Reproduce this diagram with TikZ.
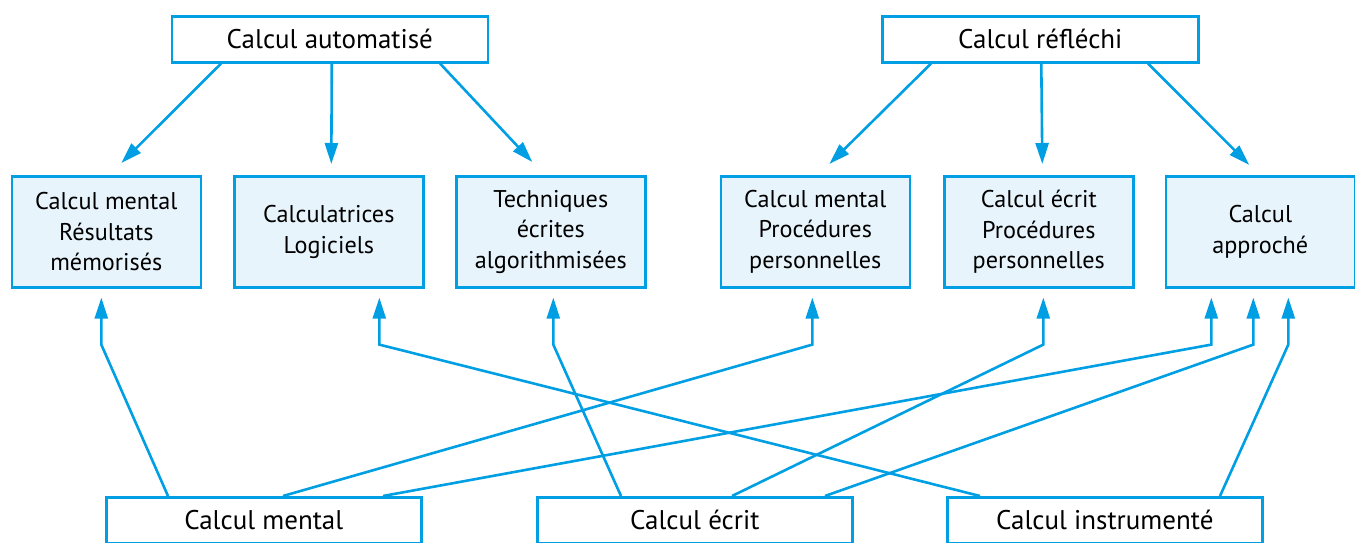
\documentclass[tikz,border=0pt]{standalone}
\usepackage{fontspec}
\setmainfont{PT Sans}
\usetikzlibrary{arrows.meta}
\definecolor{lineblue}{RGB}{0,159,227}
\definecolor{boxfill}{RGB}{232,244,252}
\begin{document}
\begin{tikzpicture}[x=1pt,y=-1pt,
  every node/.style={inner sep=0pt, align=center, text=black},
  topbox/.style={draw=lineblue, line width=2.6pt, fill=white, minimum width=316pt, minimum height=46pt, anchor=north west, font=\fontsize{27}{32}\selectfont},
  midbox/.style={draw=lineblue, line width=2.6pt, fill=boxfill, minimum width=189pt, minimum height=111pt, anchor=north west, font=\fontsize{24.2}{30.5}\selectfont},
  botbox/.style={draw=lineblue, line width=2.6pt, fill=white, minimum width=315pt, minimum height=46pt, anchor=north west, font=\fontsize{27}{32}\selectfont},
  arr/.style={draw=lineblue, line width=2.6pt, -{Triangle[length=21pt,width=13pt]}},
  link/.style={draw=lineblue, line width=2.6pt}]
\useasboundingbox (0,0) rectangle (1355,543);
% top
\node[topbox] (ta) at (170.5,15) {Calcul automatisé};
\node[topbox] (tb) at (881,15) {Calcul réfléchi};
% middle
\node[midbox] (b1) at (10.5,175) {Calcul mental\\Résultats\\mémorisés};
\node[midbox] (b2) at (233,175) {Calculatrices\\Logiciels};
\node[midbox] (b3) at (455,175) {Techniques\\écrites\\algorithmisées};
\node[midbox] (b4) at (719.5,175) {Calcul mental\\Procédures\\personnelles};
\node[midbox] (b5) at (943,175) {Calcul écrit\\Procédures\\personnelles};
\node[midbox] (b6) at (1164.5,175) {Calcul\\approché};
% bottom
\node[botbox] (bm) at (105,496) {Calcul mental};
\node[botbox] (be) at (536,496) {Calcul écrit};
\node[botbox] (bi) at (946,496) {Calcul instrumenté};
% top arrows
\draw[arr] ([xshift=50.5pt]ta.south west) -- ([xshift=15pt,yshift=12pt]b1.north);
\draw[arr] ([xshift=2pt]ta.south) -- ([xshift=2.5pt,yshift=11pt]b2.north);
\draw[arr] ([xshift=-49pt]ta.south east) -- ([xshift=-18.5pt,yshift=13pt]b3.north);
\draw[arr] ([xshift=50pt]tb.south west) -- ([xshift=14pt,yshift=11pt]b4.north);
\draw[arr] ([xshift=1pt]tb.south) -- ([xshift=3.5pt,yshift=11pt]b5.north);
\draw[arr] ([xshift=-51.5pt]tb.south east) -- ([xshift=-11pt,yshift=10pt]b6.north);
% bottom arrows
\draw[arr] ([xshift=63pt]bm.north west) -- ([xshift=-5pt,yshift=-56pt]b1.south) -- ([xshift=-5pt,yshift=-9pt]b1.south);
\draw[arr] ([xshift=178pt]bm.north west) -- ([xshift=-3pt,yshift=-56pt]b4.south) -- ([xshift=-3pt,yshift=-9pt]b4.south);
\draw[arr] ([xshift=278pt]bm.north west) -- ([xshift=-49pt,yshift=-56pt]b6.south) -- ([xshift=-49pt,yshift=-9pt]b6.south);
\draw[arr] ([xshift=85pt]be.north west) -- ([xshift=2.5pt,yshift=-56pt]b3.south) -- ([xshift=2.5pt,yshift=-9pt]b3.south);
\draw[arr] ([xshift=196pt]be.north west) -- ([xshift=4.5pt,yshift=-56pt]b5.south) -- ([xshift=4.5pt,yshift=-9pt]b5.south);
\draw[arr] ([xshift=289pt]be.north west) -- ([xshift=-7pt,yshift=-56pt]b6.south) -- ([xshift=-7pt,yshift=-9pt]b6.south);
\draw[arr] ([xshift=34pt]bi.north west) -- ([xshift=50.5pt,yshift=-56pt]b2.south) -- ([xshift=50.5pt,yshift=-9pt]b2.south);
\draw[arr] ([xshift=274pt]bi.north west) -- ([xshift=28pt,yshift=-56pt]b6.south) -- ([xshift=28pt,yshift=-9pt]b6.south);
\end{tikzpicture}
\end{document}
